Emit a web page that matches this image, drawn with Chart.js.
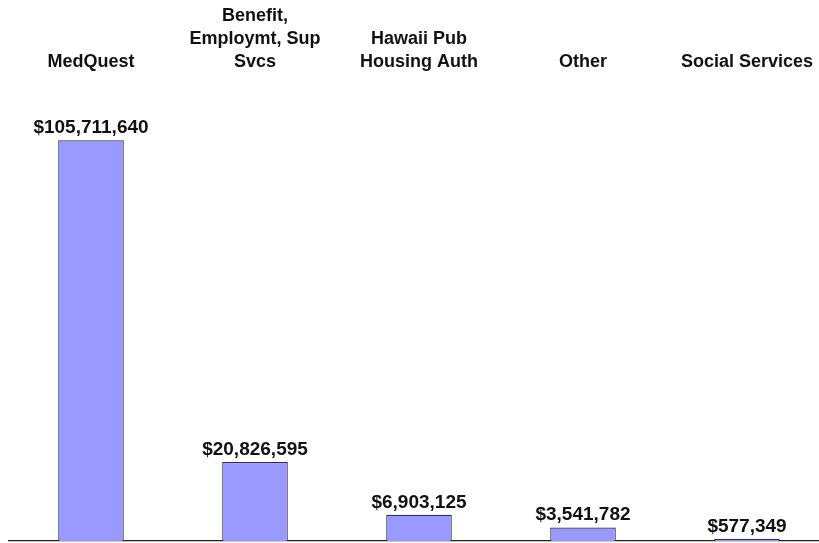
<!DOCTYPE html>
<html>
<head>
<meta charset="utf-8">
<script src="https://cdn.jsdelivr.net/npm/chart.js@4/dist/chart.umd.min.js"></script>
<style>
  html, body { margin: 0; padding: 0; background: #fff; overflow: hidden; }
  #wrap { width: 835px; height: 543px; }
</style>
</head>
<body>
<div id="wrap"><canvas id="chart"></canvas></div>
<script>
// Categorias (rótulos no topo) e valores em dólares
const categories = [
  ['MedQuest'],
  ['Benefit,', 'Employmt, Sup', 'Svcs'],
  ['Hawaii Pub', 'Housing Auth'],
  ['Other'],
  ['Social Services']
];
const amounts = [105711640, 20826595, 6903125, 3541782, 577349];

const money = v => '$' + Intl.NumberFormat('en-US').format(v);

// Desenha o valor acima de cada barra
const valueLabels = {
  id: 'valueLabels',
  afterDatasetsDraw(chart) {
    const ctx = chart.ctx;
    const meta = chart.getDatasetMeta(0);
    ctx.save();
    ctx.font = 'bold 19px "Liberation Sans", Arial, sans-serif';
    ctx.fillStyle = '#111';
    ctx.textAlign = 'center';
    ctx.textBaseline = 'bottom';
    meta.data.forEach((bar, i) => {
      ctx.fillText(money(amounts[i]), bar.x, bar.y - 3);
    });
    ctx.restore();
  }
};

new Chart(document.getElementById('chart'), {
  type: 'bar',
  data: {
    labels: categories,
    datasets: [{
      data: amounts,
      backgroundColor: '#9999FF',
      borderColor: '#2E2E5C',
      borderWidth: 1.2,
      categoryPercentage: 1,
      barPercentage: 0.4
    }]
  },
  plugins: [valueLabels],
  options: {
    responsive: true,
    maintainAspectRatio: false,
    animation: false,
    layout: { padding: { left: 9, right: 6, top: 0, bottom: 2 } },
    plugins: { legend: { display: false }, tooltip: { enabled: false } },
    scales: {
      x: {
        position: 'bottom',
        ticks: { display: false },
        grid: { display: false },
        border: { display: true, color: '#222', width: 1.2 },
        afterFit(scale) { scale.height = 0; }
      },
      x2: {
        position: 'top',
        type: 'category',
        labels: categories,
        grid: { display: false, drawTicks: false },
        border: { display: false },
        ticks: {
          color: '#111',
          padding: 12,
          maxRotation: 0,
          autoSkip: false,
          font: { family: '"Liberation Sans", Arial, sans-serif', size: 18, weight: 'bold', lineHeight: 1.28 }
        },
        afterFit(scale) { scale.height = 86; }
      },
      y: {
        display: false,
        min: 0,
        max: 120000000
      }
    }
  }
});
</script>
</body>
</html>
